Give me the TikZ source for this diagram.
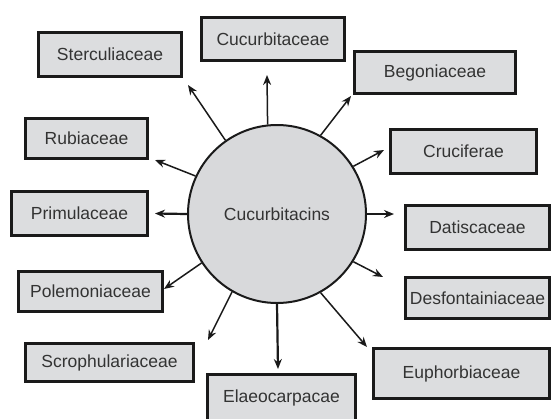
\documentclass[tikz,border=0pt]{standalone}
\usepackage{fontspec}
\setmainfont{Liberation Sans}
\usetikzlibrary{arrows.meta}
\definecolor{boxfill}{HTML}{DCDDDF}
\definecolor{circfill}{HTML}{D8D9DB}
\definecolor{txt}{HTML}{333333}
\definecolor{edge}{HTML}{1A1A1A}
\tikzset{
  fam/.style={draw=edge, line width=3pt, fill=boxfill, rectangle, inner sep=0pt,
    text=txt, font=\fontsize{17.5}{20}\selectfont, align=center},
  hub/.style={draw=edge, line width=2pt, fill=circfill, circle, inner sep=0pt,
    minimum size=178pt, text=txt, font=\fontsize{17.5}{20}\selectfont},
  link/.style={draw=edge, line width=1.5pt, -{Stealth[length=10pt,width=8pt]}},
  boldlink/.style={link, line width=2.2pt}
}
\begin{document}
\begin{tikzpicture}[x=1pt,y=-1pt]
\useasboundingbox (0,0) rectangle (553,418);
\clip (0,0) rectangle (553,418);
\fill[white] (0,0) rectangle (553,418);

\node[hub] (c) at (277,214) {Cucurbitacins};

\node[fam, minimum width=143pt, minimum height=44pt] (b1) at (110,54.5) {Sterculiaceae};
\node[fam, minimum width=143pt, minimum height=43pt] (b2) at (273,39) {Cucurbitaceae};
\node[fam, minimum width=161pt, minimum height=42pt] (b3) at (435,72.5) {Begoniaceae};
\node[fam, minimum width=146pt, minimum height=44pt] (b4) at (463.5,151.5) {Cruciferae};
\node[fam, minimum width=122pt, minimum height=40pt] (b5) at (86.5,138.5) {Rubiaceae};
\node[fam, minimum width=136pt, minimum height=44pt] (b6) at (79.5,213.5) {Primulaceae};
\node[fam, minimum width=144pt, minimum height=40pt] (b7) at (90.5,291.5) {Polemoniaceae};
\node[fam, minimum width=168pt, minimum height=38pt] (b8) at (109.5,362.5) {Scrophulariaceae};
\node[fam, minimum width=148pt, minimum height=47pt] (b9) at (281.5,398) {Elaeocarpacae};
\node[fam, minimum width=144pt, minimum height=44pt] (b10) at (477.5,227.5) {Datiscaceae};
\node[fam, minimum width=144pt, minimum height=41pt] (b11) at (477.5,298) {Desfontainiaceae};
\node[fam, minimum width=176pt, minimum height=50pt] (b12) at (461.5,373.5) {Euphorbiaceae};

\coordinate (t1) at (188,85);
\coordinate (t2) at (267,75);
\coordinate (t3) at (351,96);
\coordinate (t4) at (384,150);
\coordinate (t5) at (155,160);
\coordinate (t6) at (155,213.5);
\coordinate (t7) at (164,289);
\coordinate (t8) at (208,340);
\coordinate (t9) at (278,369);
\coordinate (t10) at (394,214);
\coordinate (t11) at (383,277);
\coordinate (t12) at (367,347);

\draw[link] (c.125.6) -- (t1);
\draw[link] (c.96) -- (t2);
\draw[link] (c.61) -- (t3);
\draw[link] (c.32) -- (t4);
\draw[link] (c.155) -- (t5);
\draw[boldlink] (c.180) -- (t6);
\draw[link] (c.213) -- (t7);
\draw[link] (c.240) -- (t8);
\draw[boldlink] (c.270) -- (t9);
\draw[boldlink] (c.0) -- (t10);
\draw[link] (c.328) -- (t11);
\draw[link] (c.299) -- (t12);
\end{tikzpicture}
\end{document}
